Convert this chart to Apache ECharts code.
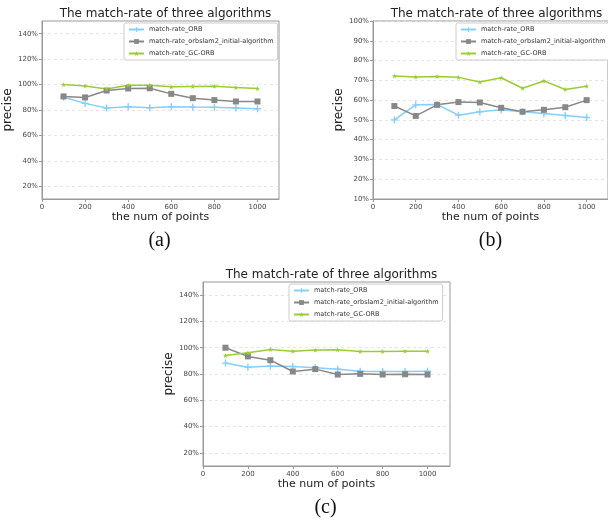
<!DOCTYPE html>
<html lang="en">
<head>
  <meta charset="UTF-8">
  <title>match-rate</title>
  <script src="https://cdn.jsdelivr.net/npm/echarts@6/dist/echarts.min.js"></script>
  <style>
    html, body { margin: 0; padding: 0; background: #fff; }
  </style>
</head>
<body>
<div id="main" style="width: 608px;height:525px;"></div>
<script>
  // data
  var points = [100, 200, 300, 400, 500, 600, 700, 800, 900, 1000];
  var names = ['match-rate_ORB', 'match-rate_orbslam2_initial-algorithm', 'match-rate_GC-ORB'];

  var orbA = [90.1, 85.2, 81.6, 82.6, 81.8, 82.6, 82.3, 82.1, 81.6, 81.0];
  var slamA = [90.7, 89.9, 95.3, 96.9, 97.1, 92.7, 89.3, 87.8, 86.7, 86.7];
  var gcA = [100, 98.9, 96.6, 99.5, 99.5, 98.2, 98.5, 98.7, 97.7, 96.9];

  var orbB = [50, 57.6, 57.8, 52.4, 54.1, 55.1, 54.1, 53.2, 52.2, 51.2];
  var slamB = [57, 52, 57.6, 59, 58.8, 56.1, 54.1, 55.1, 56.4, 60];
  var gcB = [72.2, 71.7, 72, 71.5, 69.2, 71.3, 66, 69.7, 65.4, 67];

  var orbC = [88.3, 85.2, 86, 85.7, 84.7, 83.7, 82.1, 81.9, 81.9, 82.1];
  var slamC = [100, 93.4, 90.5, 81.9, 83.7, 79.6, 80.1, 79.6, 79.8, 79.6];
  var gcC = [94.1, 96.2, 98.7, 97.4, 98.2, 98.5, 97.2, 97.2, 97.4, 97.4];

  var xTicks = [0, 200, 400, 600, 800, 1000];
  var yTicksWide = [20, 40, 60, 80, 100, 120, 140];
  var yTicksB = [10, 20, 30, 40, 50, 60, 70, 80, 90, 100];

  var myChart = echarts.init(document.querySelector('#main'), null, {renderer: 'canvas'});

  var colors = ['#87cefa', '#888888', '#9acd32'];
  var symbols = [
    'path://M4,0H6V4H10V6H6V10H4V6H0V4H4Z',
    'rect',
    'path://M5,0L6.2,3.5L10,3.6L7,5.9L8.1,9.6L5,7.4L1.9,9.6L3,5.9L0,3.6L3.8,3.5Z'
  ];
  var symbolSizes = [7, 6, 5];

  var grids = [
    {left: 42, top: 21, width: 237, height: 178},
    {left: 373, top: 21, width: 237, height: 178},
    {left: 203, top: 282, width: 247, height: 184}
  ];
  var sets = [[orbA, slamA, gcA], [orbB, slamB, gcB], [orbC, slamC, gcC]];
  var labels = ['(a)', '(b)', '(c)'];

  var tickFont = {fontSize: 7, color: '#444', fontFamily: 'DejaVu Sans'};

  function xAxisFor(i) {
    return {
      type: 'value', gridIndex: i, min: 0, max: 1100,
      name: 'the num of points', nameLocation: 'middle', nameGap: 13,
      nameTextStyle: {fontSize: 11, color: '#222', fontFamily: 'DejaVu Sans'},
      axisLine: {show: true, lineStyle: {color: '#999'}},
      axisTick: {show: true, length: 3, customValues: xTicks, lineStyle: {color: '#999'}},
      axisLabel: Object.assign({
        customValues: xTicks, margin: 5,
        formatter: function (v) { return String(v); }
      }, tickFont),
      splitLine: {show: false}
    };
  }

  function yAxisFor(i) {
    var ticks = i === 1 ? yTicksB : yTicksWide;
    return {
      type: 'value', gridIndex: i,
      min: 10, max: i === 1 ? 100 : 150,
      name: 'precise', nameLocation: 'middle', nameGap: 22, nameRotate: 90,
      nameTextStyle: {fontSize: 12, color: '#222', fontFamily: 'DejaVu Sans'},
      axisLine: {show: true, lineStyle: {color: '#999'}},
      axisTick: {show: true, length: 3, customValues: ticks, lineStyle: {color: '#999'}},
      axisLabel: Object.assign({customValues: ticks, margin: 4, formatter: '{value}%'}, tickFont),
      splitLine: {show: true, lineStyle: {type: [3, 3], color: '#ddd', width: 0.8}}
    };
  }

  var series = [];
  sets.forEach(function (set, i) {
    set.forEach(function (vals, k) {
      series.push({
        name: names[k], type: 'line',
        xAxisIndex: i, yAxisIndex: i,
        data: points.map(function (p, j) { return [p, vals[j]]; }),
        symbol: symbols[k], symbolSize: symbolSizes[k],
        showAllSymbol: true,
        lineStyle: {color: colors[k], width: 1.5},
        itemStyle: {color: colors[k]},
        animation: false
      });
    });
  });

  var legendPos = [
    {left: 124, top: 23},
    {left: 456, top: 23},
    {left: 289, top: 284}
  ];

  var option = {
    backgroundColor: '#fff',
    animation: false,
    title: grids.map(function (g) {
      return {
        text: 'The match-rate of three algorithms',
        left: g.left + g.width / 2, top: g.top - 18, textAlign: 'center',
        textStyle: {fontSize: 12, fontWeight: 'normal', color: '#222', fontFamily: 'DejaVu Sans'}
      };
    }).concat(grids.map(function (g, i) {
      return {
        text: labels[i],
        left: g.left + g.width / 2 - 6, top: g.top + g.height + 27, textAlign: 'center',
        textStyle: {fontSize: 20, fontWeight: 'normal', color: '#111', fontFamily: 'Liberation Serif'}
      };
    })),
    legend: legendPos.map(function (p) {
      return {
        data: names, orient: 'vertical', left: p.left, top: p.top,
        itemWidth: 15, itemHeight: 6, itemGap: 5,
        padding: [3, 4, 3, 4],
        borderColor: '#ccc', borderWidth: 1, borderRadius: 2,
        backgroundColor: '#fff',
        textStyle: {fontSize: 6.5, color: '#333', fontFamily: 'DejaVu Sans'}
      };
    }),
    grid: grids.map(function (g) {
      return Object.assign({show: true, borderColor: '#999', borderWidth: 1, containLabel: false}, g);
    }),
    xAxis: [0, 1, 2].map(xAxisFor),
    yAxis: [0, 1, 2].map(yAxisFor),
    series: series
  };

  myChart.setOption(option);
</script>
</body>
</html>
